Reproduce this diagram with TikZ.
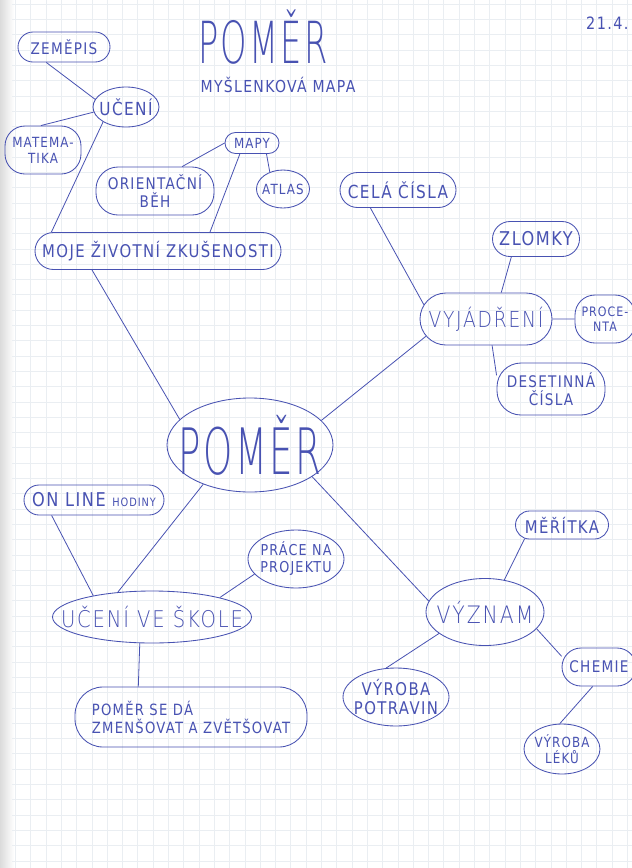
\documentclass[tikz,border=0pt]{standalone}
\usepackage{fontspec}
\usetikzlibrary{shapes.geometric,shapes.misc}
\newfontfamily\handfont[FakeStretch=0.85,LetterSpace=8]{DejaVu Sans}
\newfontfamily\thinfont[FakeStretch=0.85,LetterSpace=8]{DejaVuSans-ExtraLight.ttf}
\newfontfamily\bigfont[FakeStretch=0.58,LetterSpace=4]{DejaVuSans-ExtraLight.ttf}
\newcommand\hfs[2]{\handfont\fontsize{#1}{#2}\selectfont}
\newcommand\tfs[1]{\thinfont\fontsize{#1}{#1}\selectfont}
\newcommand\bfs[1]{\bigfont\fontsize{#1}{#1}\selectfont}
\definecolor{ink}{RGB}{72,82,178}
\definecolor{gridc}{RGB}{234,238,242}
\tikzset{
  bub/.style={draw=ink, line width=0.85pt, ellipse, inner sep=0pt},
  pill/.style={draw=ink, line width=0.85pt, rounded rectangle, inner sep=0pt},
  sq/.style={draw=ink, line width=0.85pt, rectangle, rounded corners=#1, inner sep=0pt},
  con/.style={draw=ink, line width=0.8pt},
  every label/.style={text=ink, inner sep=0pt, align=center},
  plain/.style={text=ink, inner sep=0pt}
}
\begin{document}
\begin{tikzpicture}[x=1pt,y=-1pt]
\useasboundingbox (0,0) rectangle (632,868);
\fill[white] (0,0) rectangle (632,868);
\fill[left color=black!14, right color=white] (0,0) rectangle (14,868);
\foreach \i in {1,...,41} {\draw[gridc,line width=0.6pt] (\i*15.3,0) -- (\i*15.3,868);}
\foreach \j in {0,...,56} {\draw[gridc,line width=0.6pt] (12,\j*15.3+4) -- (632,\j*15.3+4);}

% titles
\node[plain, font=\bfs{58}] (title) at (263,37) {POMĚR};
\node[plain, font=\hfs{16.5}{18}] (sub) at (278,85) {MYŠLENKOVÁ MAPA};
\node[plain, font=\hfs{17}{18}, anchor=west] (date) at (586,23) {21.4.};

% upper left
\node[pill, minimum width=92pt, minimum height=30pt, label={[font=\hfs{16}{18}]center:ZEMĚPIS}] (zem) at (64,47) {};
\node[bub, minimum width=66pt, minimum height=40pt, label={[font=\hfs{18}{20}]center:UČENÍ}] (uceni) at (126,107) {};
\node[sq=20pt, minimum width=76pt, minimum height=48pt, label={[font=\hfs{14}{16}]center:MATEMA-\\TIKA}] (mat) at (43,150) {};
\node[pill, minimum width=54pt, minimum height=21pt, label={[font=\hfs{14}{16}]center:MAPY}] (mapy) at (252,143) {};
\node[sq=22pt, minimum width=118pt, minimum height=48pt, label={[font=\hfs{16}{18}]center:ORIENTAČNÍ\\BĚH}] (orient) at (155,191) {};
\node[bub, minimum width=53pt, minimum height=38pt, label={[font=\hfs{14}{16}]center:ATLAS}] (atlas) at (283,189) {};
\node[pill, minimum width=246pt, minimum height=37pt, label={[font=\hfs{17.5}{19}]center:MOJE ŽIVOTNÍ ZKUŠENOSTI}] (moje) at (158,251) {};

% upper right
\node[pill, minimum width=116pt, minimum height=35pt, label={[font=\hfs{18}{20}]center:CELÁ ČÍSLA}] (cela) at (398,190) {};
\node[pill, minimum width=87pt, minimum height=35pt, label={[font=\hfs{19}{21}]center:ZLOMKY}] (zlomky) at (536,239) {};
\node[pill, minimum width=132pt, minimum height=52pt, label={[font=\tfs{22}]center:VYJÁDŘENÍ}] (vyj) at (486,319) {};
\node[sq=20pt, minimum width=60pt, minimum height=48pt, label={[font=\hfs{13}{15}]center:PROCE-\\NTA}] (proc) at (605,319) {};
\node[sq=24pt, minimum width=108pt, minimum height=52pt, label={[font=\hfs{16}{18}]center:DESETINNÁ\\ČÍSLA}] (des) at (551,389) {};

% centre
\node[bub, minimum width=166pt, minimum height=94pt, label={[font=\bfs{64}]center:POMĚR}] (pomer) at (250,445) {};

% lower left
\node[pill, minimum width=140pt, minimum height=30pt, label={[font=\hfs{19}{20}]center:ON LINE {\hfs{11.5}{12}HODINY}}] (online) at (94,500) {};
\node[bub, minimum width=96pt, minimum height=58pt, label={[font=\hfs{15}{17}]center:PRÁCE NA\\PROJEKTU}] (prace) at (296,559) {};
\node[bub, minimum width=199pt, minimum height=52pt, label={[font=\tfs{23}]center:UČENÍ VE ŠKOLE}] (skola) at (152,617) {};
\node[sq=28pt, minimum width=232pt, minimum height=60pt, label={[font=\hfs{15.5}{18}, align=left]center:POMĚR SE DÁ\\ZMENŠOVAT A ZVĚTŠOVAT}] (zmen) at (191,717) {};

% lower right
\node[pill, minimum width=93pt, minimum height=28pt, label={[font=\hfs{17.5}{19}]center:MĚŘÍTKA}] (meritka) at (562,525) {};
\node[bub, minimum width=118pt, minimum height=67pt, label={[font=\tfs{24}]center:VÝZNAM}] (vyznam) at (485,612) {};
\node[sq=19pt, minimum width=74pt, minimum height=38pt, label={[font=\hfs{16}{18}]center:CHEMIE}] (chemie) at (599,667) {};
\node[bub, minimum width=106pt, minimum height=58pt, label={[font=\hfs{17.5}{19}]center:VÝROBA\\POTRAVIN}] (potr) at (396,697) {};
\node[bub, minimum width=76pt, minimum height=50pt, label={[font=\hfs{14}{16}]center:VÝROBA\\LÉKŮ}] (leky) at (562,749) {};

% connectors
\draw[con] (zem.221) -- (uceni.166);
\draw[con] (uceni.189) -- (mat.95);
\draw[con] (uceni.213) -- (moje.170);
\draw[con] (mapy.west) -- (orient.42);
\draw[con] (mapy.323) -- (atlas.128);
\draw[con] (mapy.222) -- (moje.20);
\draw[con] (moje.196) -- (pomer.160);
\draw[con] (cela.213) -- (vyj.167);
\draw[con] (zlomky.216) -- (vyj.60);
\draw[con] (vyj) -- (proc);
\draw[con] (vyj.283) -- (des.166);
\draw[con] (pomer.19) -- (vyj.196);
\draw[con] (pomer.220) -- (skola.144);
\draw[con] (online.200) -- (skola.160);
\draw[con] (prace.200) -- (skola.16);
\draw[con] (skola.245) -- (zmen.150);
\draw[con] (pomer.333) -- (vyznam.169);
\draw[con] (meritka.200) -- (vyznam.59);
\draw[con] (vyznam.205) -- (potr.109);
\draw[con] (vyznam.342) -- (chemie.164);
\draw[con] (chemie.252) -- (leky.95);
\end{tikzpicture}
\end{document}
